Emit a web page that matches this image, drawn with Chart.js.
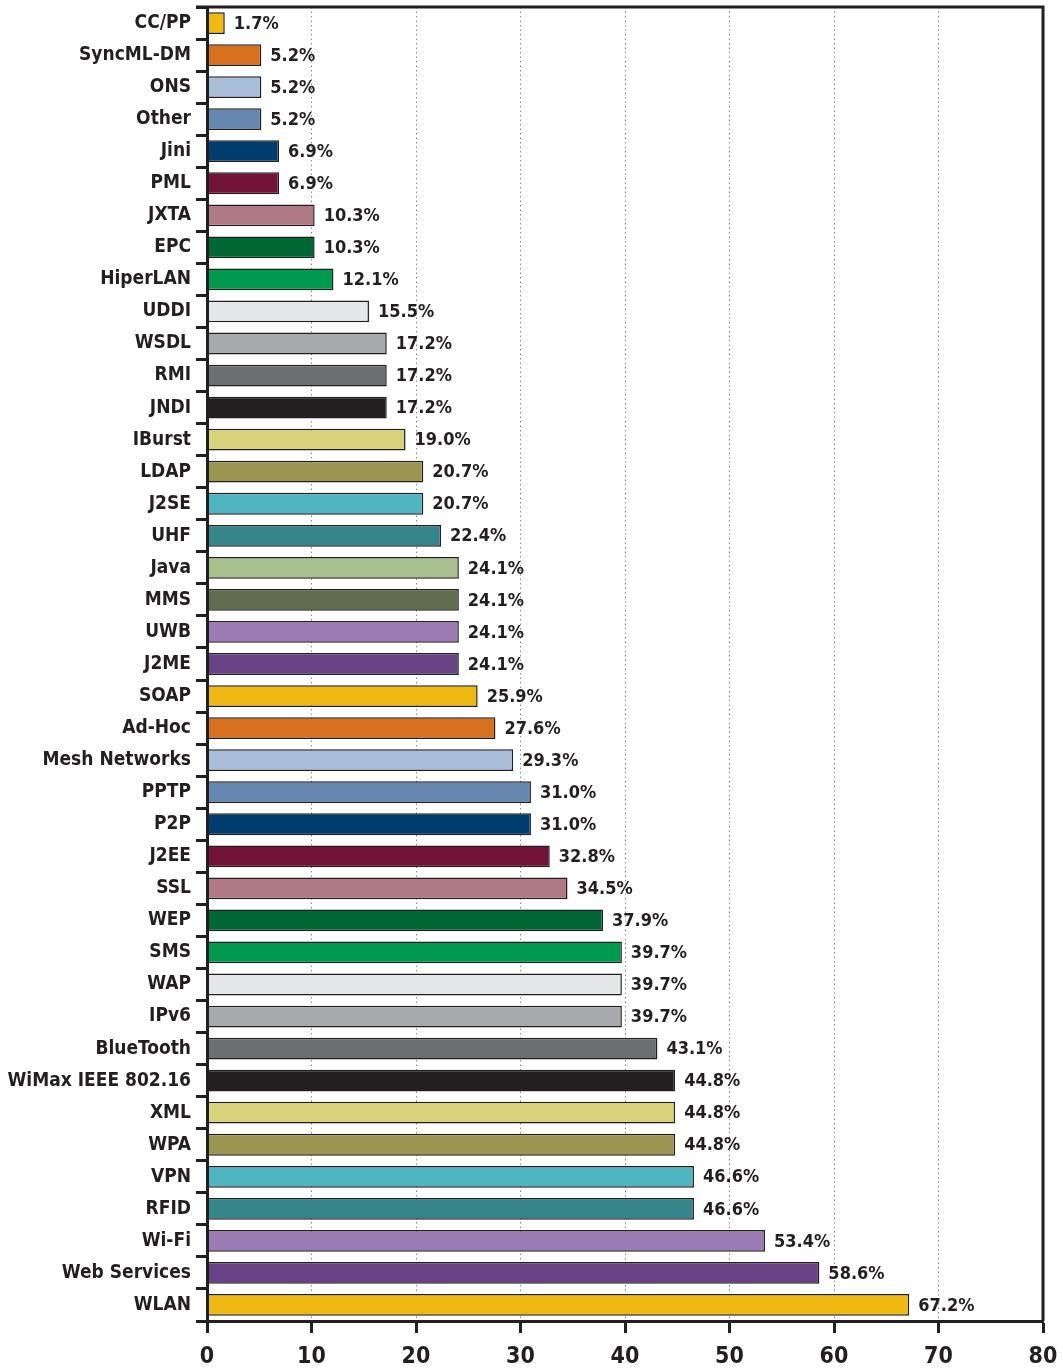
<!DOCTYPE html>
<html>
<head>
<meta charset="utf-8">
<script src="https://cdn.jsdelivr.net/npm/chart.js@4/dist/chart.umd.min.js"></script>
<style>
  body { margin: 0; background: #fff; }
  canvas { display: block; }
</style>
</head>
<body>
<canvas id="techChart" width="1063" height="1369"></canvas>
<script>
// categories, top to bottom
const technologies = [
    'CC/PP', 'SyncML-DM', 'ONS', 'Other', 'Jini', 'PML', 'JXTA', 'EPC', 'HiperLAN',
    'UDDI', 'WSDL', 'RMI', 'JNDI', 'IBurst', 'LDAP', 'J2SE', 'UHF', 'Java', 'MMS',
    'UWB', 'J2ME', 'SOAP', 'Ad-Hoc', 'Mesh Networks', 'PPTP', 'P2P', 'J2EE', 'SSL',
    'WEP', 'SMS', 'WAP', 'IPv6', 'BlueTooth', 'WiMax IEEE 802.16', 'XML', 'WPA',
    'VPN', 'RFID', 'Wi-Fi', 'Web Services', 'WLAN'
];

// percent of respondents
const percentages = [
    1.7, 5.2, 5.2, 5.2, 6.9, 6.9, 10.3, 10.3, 12.1,
    15.5, 17.2, 17.2, 17.2, 19.0, 20.7, 20.7, 22.4, 24.1, 24.1,
    24.1, 24.1, 25.9, 27.6, 29.3, 31.0, 31.0, 32.8, 34.5,
    37.9, 39.7, 39.7, 39.7, 43.1, 44.8, 44.8, 44.8,
    46.6, 46.6, 53.4, 58.6, 67.2
];

const xTicks = [0, 10, 20, 30, 40, 50, 60, 70, 80];

// bar fill for each category, same order as above
const barColors = [
    '#F0B912', '#D8711E', '#A9BFD9', '#6688B0', '#003D6E', '#721236', '#B07A85', '#006633', '#009A4E',
    '#E6E7E8', '#A7A9AC', '#6D6E70', '#231F20', '#D8D27A', '#9A9550', '#4FB5C0', '#35868A', '#A9C18F', '#5E6E4E',
    '#9C7BB5', '#674385', '#F0B912', '#D8711E', '#A9BFD9', '#6688B0', '#003D6E', '#721236', '#B07A85',
    '#006633', '#009A4E', '#E6E7E8', '#A7A9AC', '#6D6E70', '#231F20', '#D8D27A', '#9A9550',
    '#4FB5C0', '#35868A', '#9C7BB5', '#674385', '#F0B912'
];

const FONT = '"DejaVu Sans Condensed", "DejaVu Sans", sans-serif';
const INK = '#231F20';

// value labels at the end of each bar
const valueLabels = {
    id: 'valueLabels',
    afterDatasetsDraw(chart) {
        const ctx = chart.ctx;
        const meta = chart.getDatasetMeta(0);
        ctx.save();
        ctx.font = 'bold 18px ' + FONT;
        ctx.fillStyle = INK;
        ctx.textAlign = 'left';
        ctx.textBaseline = 'middle';
        meta.data.forEach((bar, i) => {
            ctx.fillText(percentages[i].toFixed(1) + '%', bar.x + 9, bar.y + 1);
        });
        ctx.restore();
    }
};

// top and right edges of the frame
const frame = {
    id: 'frame',
    afterDraw(chart) {
        const a = chart.chartArea;
        const ctx = chart.ctx;
        ctx.save();
        ctx.strokeStyle = INK;
        ctx.lineWidth = 3;
        ctx.beginPath();
        ctx.moveTo(a.left - 11, a.top);
        ctx.lineTo(a.right, a.top);
        ctx.lineTo(a.right, a.bottom);
        ctx.stroke();
        ctx.restore();
    }
};

const ctx = document.getElementById('techChart').getContext('2d');
new Chart(ctx, {
    type: 'bar',
    data: {
        labels: technologies,
        datasets: [{
            data: percentages,
            backgroundColor: barColors,
            borderColor: INK,
            borderWidth: 1.5,
            borderSkipped: false,
            barPercentage: 0.68,
            categoryPercentage: 1
        }]
    },
    options: {
        indexAxis: 'y',
        responsive: false,
        animation: false,
        devicePixelRatio: 1,
        layout: { padding: { top: 7, right: 20, left: 0, bottom: 0 } },
        plugins: {
            legend: { display: false },
            tooltip: { enabled: false }
        },
        scales: {
            x: {
                min: 0,
                max: 80,
                afterBuildTicks(scale) {
                    scale.ticks = xTicks.map(v => ({ value: v }));
                },
                afterFit(scale) {
                    scale.height = 48;
                    scale.paddingLeft = 0;
                    scale.paddingRight = 0;
                },
                border: { display: true, color: INK, width: 3, dash: [1.5, 3] },
                grid: {
                    color: c => (c.tick && (c.tick.value === 0 || c.tick.value === 80)) ? 'rgba(0,0,0,0)' : '#8a8a8a',
                    lineWidth: 1,
                    tickColor: INK,
                    tickLength: 12,
                    tickWidth: 3,
                    tickBorderDash: []
                },
                ticks: {
                    color: INK,
                    font: { family: FONT, size: 23, weight: 'bold' },
                    padding: 10,
                    maxRotation: 0
                }
            },
            y: {
                afterFit(scale) {
                    scale.width = 207;
                    scale.paddingTop = 0;
                    scale.paddingBottom = 0;
                },
                border: { display: true, color: INK, width: 3 },
                grid: {
                    offset: true,
                    drawOnChartArea: false,
                    tickColor: INK,
                    tickLength: 11,
                    tickWidth: 3
                },
                ticks: {
                    color: INK,
                    font: { family: FONT, size: 19, weight: 'bold' },
                    padding: 5,
                    autoSkip: false
                }
            }
        }
    },
    plugins: [valueLabels, frame]
});
</script>
</body>
</html>
